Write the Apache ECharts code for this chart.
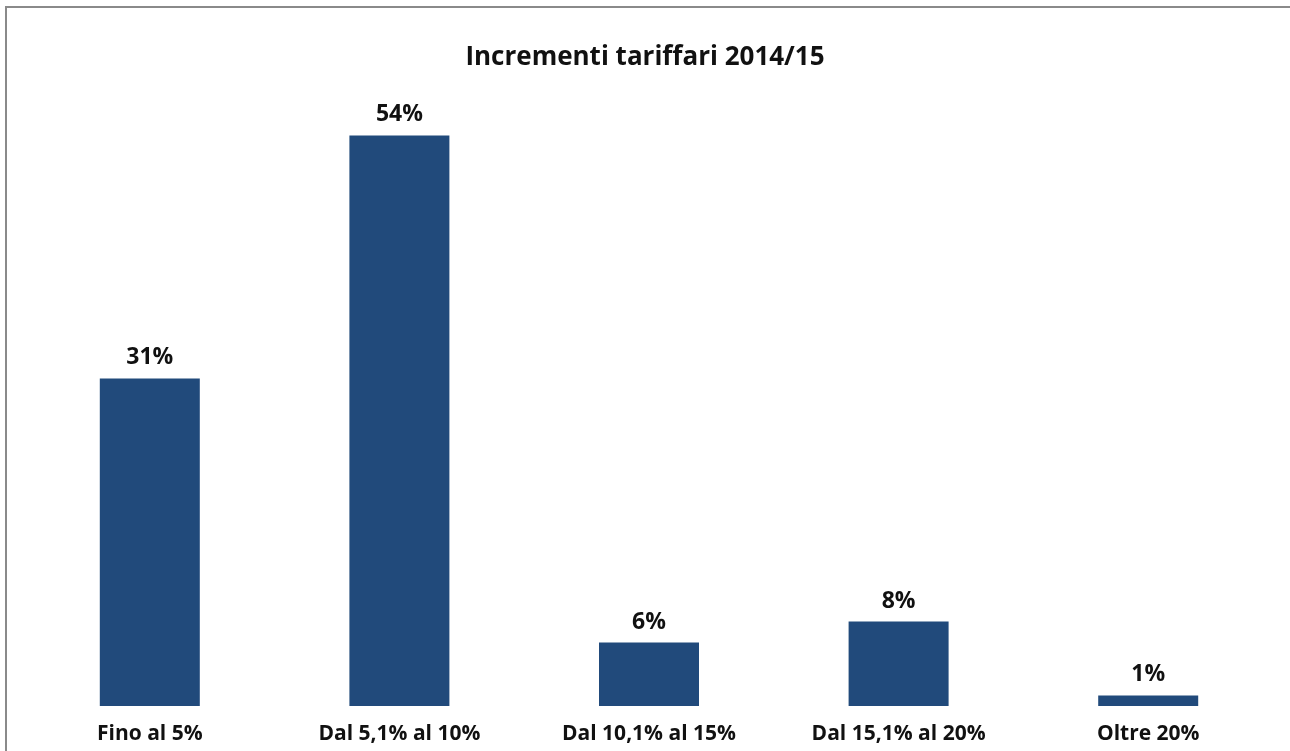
<!DOCTYPE html>
<html>
<head>
<meta charset="utf-8">
<script src="https://cdn.jsdelivr.net/npm/echarts@6/dist/echarts.min.js"></script>
<style>
  html, body { margin: 0; padding: 0; background: #fff; }
  #chart { width: 1290px; height: 751px; }
</style>
</head>
<body>
<div id="chart"></div>
<script>
  var categories = ['Fino al 5%', 'Dal 5,1% al 10%', 'Dal 10,1% al 15%', 'Dal 15,1% al 20%', 'Oltre 20%'];
  var values = [31, 54, 6, 8, 1];

  var chart = echarts.init(document.getElementById('chart'));
  chart.setOption({
    backgroundColor: '#fff',
    title: {
      text: 'Incrementi tariffari 2014/15',
      left: 'center',
      top: 40,
      textStyle: {
        fontFamily: 'Open Sans',
        fontWeight: 'bold',
        fontSize: 26,
        color: '#111'
      }
    },
    graphic: [{
      type: 'rect',
      shape: { x: 6, y: 7, width: 1400, height: 800 },
      style: { fill: null, stroke: '#8a8a8a', lineWidth: 2 },
      silent: true
    }],
    grid: {
      left: 25,
      right: 17,
      top: 72,
      bottom: 45
    },
    xAxis: {
      type: 'category',
      data: categories,
      axisLine: { show: false },
      axisTick: { show: false },
      axisLabel: {
        margin: 18,
        fontFamily: 'Open Sans',
        fontWeight: 'bold',
        fontSize: 21,
        color: '#111',
        interval: 0
      }
    },
    yAxis: {
      type: 'value',
      min: 0,
      max: 60,
      show: false,
      splitLine: { show: false }
    },
    series: [{
      type: 'bar',
      data: values,
      barWidth: 100,
      itemStyle: { color: '#214a7b' },
      label: {
        show: true,
        position: 'top',
        distance: 9,
        formatter: '{c}%',
        fontFamily: 'Open Sans',
        fontWeight: 'bold',
        fontSize: 23,
        color: '#111'
      }
    }]
  });
</script>
</body>
</html>
